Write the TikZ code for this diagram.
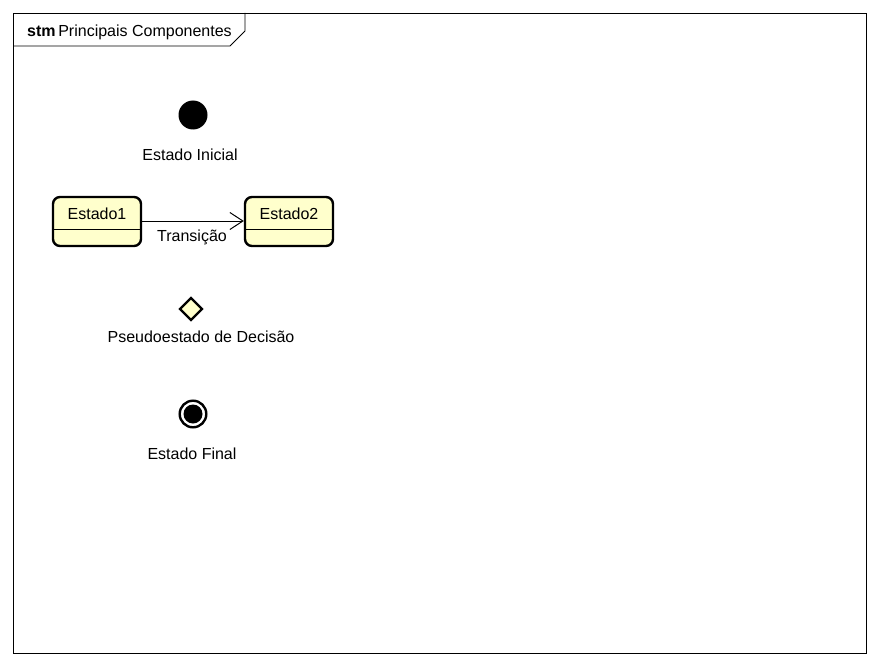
\documentclass[tikz,border=0pt]{standalone}
\usepackage{fontspec}
\setmainfont{Liberation Sans}
\usetikzlibrary{shapes.geometric,arrows.meta}
\definecolor{statefill}{HTML}{FFFFCC}
\begin{document}
\begin{tikzpicture}[x=1pt,y=-1pt,
  lbl/.style={font=\fontsize{16}{19}\selectfont, inner sep=0pt},
  stbox/.style={draw=black, line width=2.4pt, fill=statefill, rounded corners=7pt},
  frameline/.style={draw=black, line width=0.9pt}]
\useasboundingbox (0,0) rectangle (880,666);
\fill[white] (0,0) rectangle (880,666);
% diagram frame and name tab
\draw[frameline] (13,13) rectangle (866,653);
\draw[frameline] (13,46) -- (230,46) -- (245,31) -- (245,13);
\node[lbl, anchor=base west] (title) at (27,37) {\textbf{stm}\,Principais Componentes};
% initial state
\fill[black] (193,115) circle (14.5);
\coordinate (init) at (193,115);
\node[lbl] (initlbl) at (190,155) {Estado Inicial};
% states
\draw[stbox] (53,197) rectangle (141,246);
\draw[line width=1pt] (54,229) -- (140,229);
\node[lbl] (s1) at (97,214) {Estado1};
\draw[stbox] (245,197) rectangle (333,246);
\draw[line width=1pt] (246,229) -- (332,229);
\node[lbl] (s2) at (289,214) {Estado2};
\coordinate (s1e) at (142.2,221);
\coordinate (s2w) at (243.8,221);
\draw[line width=1pt, -{Straight Barb[length=13pt,width=17pt,line width=1pt]}] (s1e) -- (s2w);
\node[lbl] (tr) at (192,237) {Transição};
% decision pseudostate
\node[diamond, draw=black, line width=2.4pt, fill=statefill, minimum width=23pt, minimum height=23pt, inner sep=0pt] (dec) at (191,309) {};
\node[lbl] (declbl) at (201,337) {Pseudoestado de Decisão};
% final state
\draw[black, line width=2.4pt, fill=white] (193,414) circle (13.3);
\fill[black] (193,414) circle (9.5);
\coordinate (final) at (193,414);
\node[lbl] (finlbl) at (192,454) {Estado Final};
\end{tikzpicture}
\end{document}
